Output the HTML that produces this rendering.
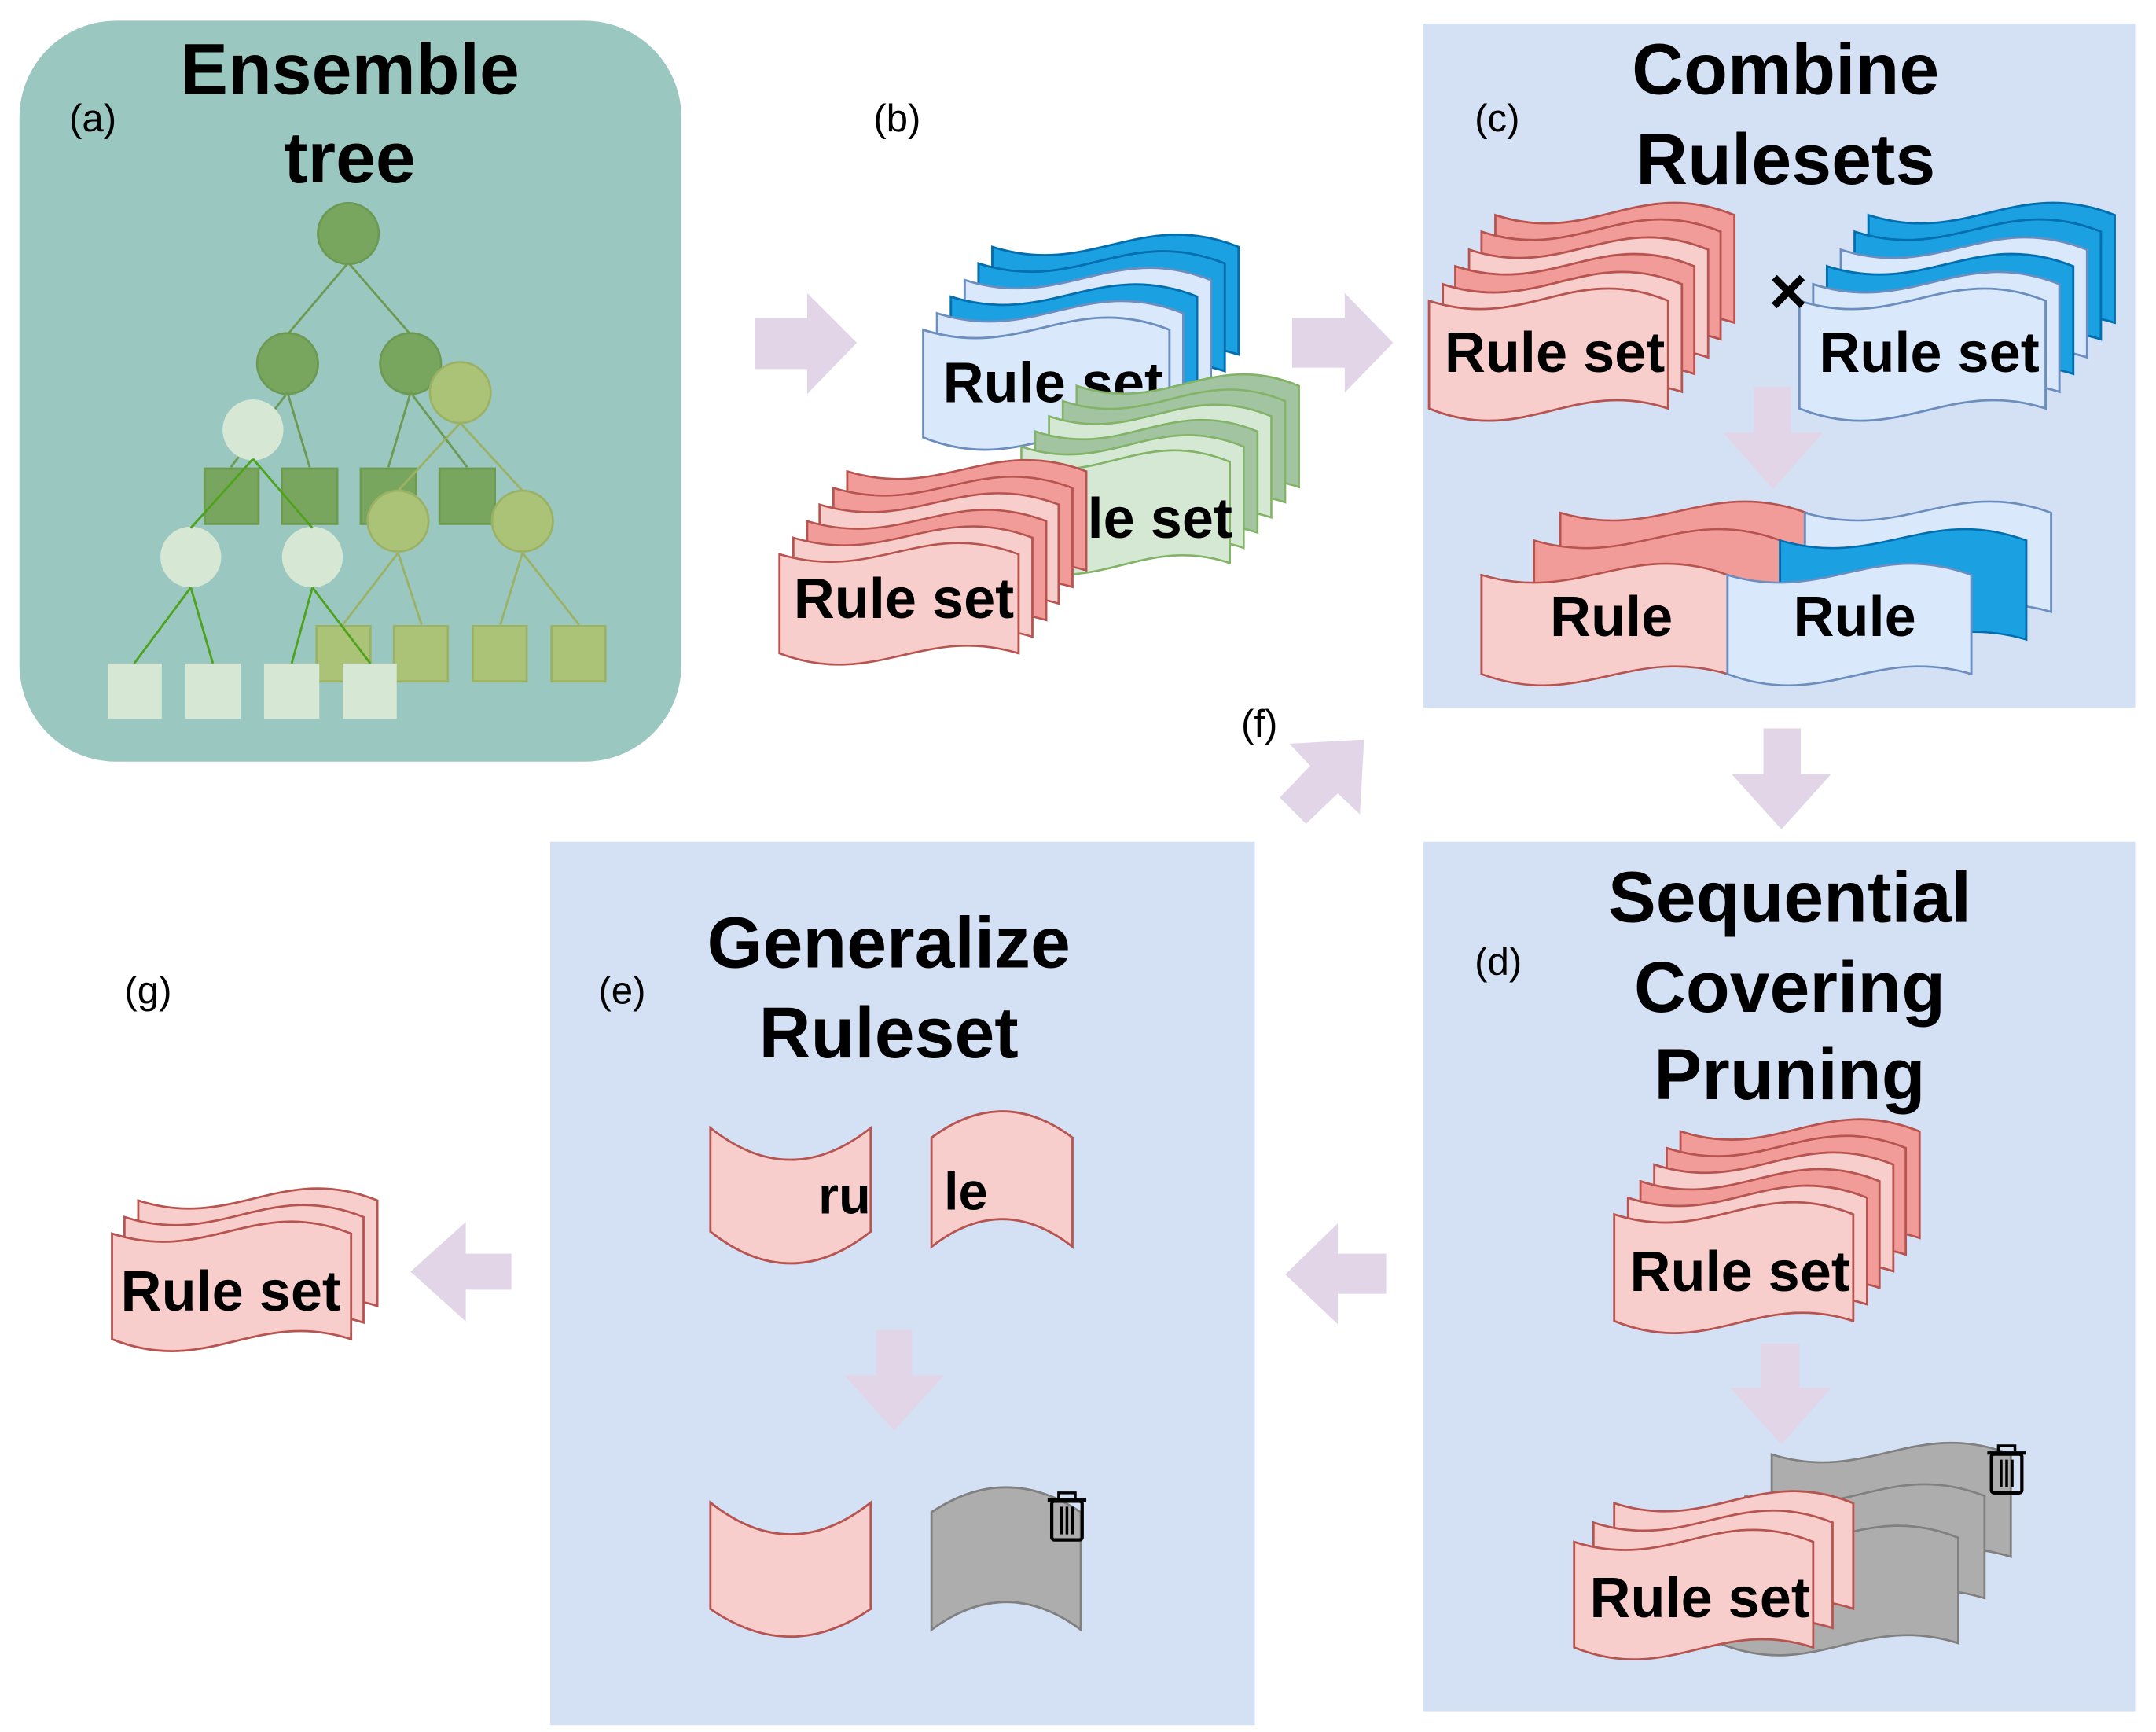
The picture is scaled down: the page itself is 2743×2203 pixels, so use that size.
<!DOCTYPE html>
<html><head><meta charset="utf-8"><style>
html,body{margin:0;padding:0;background:#fff}
svg{display:block}
text{font-family:"Liberation Sans",Arial,sans-serif}
.t{font-weight:bold;font-size:52px;text-anchor:middle}
.l{font-size:28px}
.rs{font-weight:bold;font-size:41px;text-anchor:middle}
.rl{fill:#f8cecc;stroke:#b85450}
.rd{fill:#f19c99;stroke:#b85450}
.bl{fill:#dae8fc;stroke:#6c8ebf}
.bd{fill:#1ba1e2;stroke:#006eaf}
.gl{fill:#d5e8d4;stroke:#82b366}
.gd{fill:#a3c4a0;stroke:#82b366}
.gy{fill:#adadad;stroke:#808080}
.ar{fill:#e1d5e7}
</style></head><body>
<svg width="2743" height="2203" viewBox="0 0 1560 1253" xmlns="http://www.w3.org/2000/svg">
<defs>
<path id="W" stroke-width="1.6" d="M0,7.6 C69.2,30.4 103.8,-20.9 173,7.6 L173,85.5 C103.8,62.7 69.2,114 0,85.5 Z"/>
<g id="T"><rect x="-11" y="6" width="22" height="28" rx="2" fill="none" stroke="#000" stroke-width="2.4"/><rect x="-14" y="4" width="28" height="2.4" fill="#000"/><path d="M-6,4 v-4 h12 v4" fill="none" stroke="#000" stroke-width="2"/><rect x="-5" y="10" width="2" height="20" fill="#000"/><rect x="-1" y="10" width="2" height="20" fill="#000"/><rect x="3" y="10" width="2" height="20" fill="#000"/></g>
</defs>

<rect x="14" y="15" width="479" height="536" rx="70" fill="#9bc7c1"/>
<rect x="1030" y="17" width="515" height="495" fill="#d4e1f5"/>
<rect x="1030" y="609" width="515" height="629" fill="#d4e1f5"/>
<rect x="398" y="609" width="510" height="639" fill="#d4e1f5"/>

<text class="t" x="253" y="68">Ensemble</text>
<text class="t" x="253" y="132">tree</text>
<text class="t" x="1292" y="68">Combine</text>
<text class="t" x="1292" y="133">Rulesets</text>
<text class="t" x="1295" y="667">Sequential</text>
<text class="t" x="1295" y="732">Covering</text>
<text class="t" x="1295" y="795">Pruning</text>
<text class="t" x="643" y="700">Generalize</text>
<text class="t" x="643" y="765">Ruleset</text>
<text class="l" x="50" y="95">(a)</text>
<text class="l" x="632" y="95">(b)</text>
<text class="l" x="1067" y="95">(c)</text>
<text class="l" x="898" y="533">(f)</text>
<text class="l" x="1067" y="705">(d)</text>
<text class="l" x="90" y="726">(g)</text>
<text class="l" x="433" y="726">(e)</text>

<g stroke="#6d9a52" stroke-width="1.6">
<line x1="252" y1="190" x2="208" y2="242"/><line x1="252" y1="190" x2="297" y2="242"/>
<line x1="208" y1="284" x2="167" y2="338"/><line x1="208" y1="284" x2="224" y2="338"/>
<line x1="297" y1="284" x2="281" y2="338"/><line x1="297" y1="284" x2="338" y2="338"/>
</g>
<g fill="#79a65f" stroke="#6d9a52" stroke-width="1.6">
<circle cx="252" cy="169" r="22"/><circle cx="208" cy="263" r="22"/><circle cx="297" cy="263" r="22"/>
<rect x="148" y="339" width="39" height="40"/><rect x="204" y="339" width="40" height="40"/><rect x="261" y="339" width="40" height="40"/><rect x="318" y="339" width="40" height="40"/>
</g>
<g stroke="#9bb265" stroke-width="1.6">
<line x1="333" y1="306" x2="288" y2="355"/><line x1="333" y1="306" x2="378" y2="355"/>
<line x1="288" y1="400" x2="248" y2="452"/><line x1="288" y1="400" x2="305" y2="452"/>
<line x1="378" y1="400" x2="362" y2="452"/><line x1="378" y1="400" x2="419" y2="452"/>
</g>
<g fill="#abc377" stroke="#9bb265" stroke-width="1.6">
<circle cx="333" cy="284" r="22"/><circle cx="288" cy="377" r="22"/><circle cx="378" cy="377" r="22"/>
<rect x="229" y="453" width="39" height="40"/><rect x="285" y="453" width="39" height="40"/><rect x="342" y="453" width="39" height="40"/><rect x="399" y="453" width="39" height="40"/>
</g>
<g fill="#d6e7d4">
<circle cx="183" cy="311" r="22"/><circle cx="138" cy="403" r="22"/><circle cx="226" cy="403" r="22"/>
</g>
<g stroke="#4da31b" stroke-width="1.6">
<line x1="183" y1="332" x2="138" y2="382"/><line x1="183" y1="332" x2="226" y2="382"/>
<line x1="138" y1="425" x2="97" y2="480"/><line x1="138" y1="425" x2="154" y2="480"/>
<line x1="226" y1="425" x2="211" y2="480"/><line x1="226" y1="425" x2="268" y2="480"/>
</g>
<g fill="#d6e7d4">
<rect x="78" y="480" width="39" height="40"/><rect x="134" y="480" width="40" height="40"/><rect x="191" y="480" width="40" height="40"/><rect x="248" y="480" width="39" height="40"/>
</g>

<polygon class="ar" points="546,230 584,230 584,212 620,248 584,285 584,267 546,267"/>
<polygon class="ar" points="935,230 973,230 973,212 1008,248 973,284 973,266 935,266"/>
<polygon class="ar" points="1269,280 1296,280 1296,313 1319,313 1283,354 1247,313 1269,313"/>
<polygon class="ar" points="1276,527 1303,527 1303,560 1325,560 1289,600 1253,560 1276,560"/>
<polygon class="ar" points="1274,972 1302,972 1302,1004 1325,1004 1289,1045 1252,1004 1274,1004"/>
<polygon class="ar" points="634,962 660,962 660,995 683,995 647,1035 611,995 634,995"/>
<polygon class="ar" points="1003,907 968,907 968,885 930,922 968,958 968,936 1003,936"/>
<polygon class="ar" points="370,907 337,907 337,884 297,920 337,956 337,933 370,933"/>
<polygon class="ar" points="987,535 933,538 948,554 926,577 945,596 968,574 984,589"/>

<use href="#W" class="bd" transform="translate(718,171) scale(1.03,1)"/>
<use href="#W" class="bd" transform="translate(708,183) scale(1.03,1)"/>
<use href="#W" class="bl" transform="translate(698,195) scale(1.03,1)"/>
<use href="#W" class="bd" transform="translate(688,207) scale(1.03,1)"/>
<use href="#W" class="bl" transform="translate(678,219) scale(1.03,1)"/>
<use href="#W" class="bl" transform="translate(668,231) scale(1.03,1)"/>
<text class="rs" x="762" y="291">Rule set</text>
<use href="#W" class="gd" transform="translate(779,272) scale(.93,.94)"/>
<use href="#W" class="gd" transform="translate(769,283) scale(.93,.94)"/>
<use href="#W" class="gl" transform="translate(759,294) scale(.93,.94)"/>
<use href="#W" class="gd" transform="translate(749,305) scale(.93,.94)"/>
<use href="#W" class="gl" transform="translate(739,316) scale(.93,.94)"/>
<use href="#W" class="gl" transform="translate(729,327) scale(.93,.94)"/>
<text class="rs" x="812" y="389">Rule set</text>
<use href="#W" class="rd" transform="translate(613,334) scale(1,.92)"/>
<use href="#W" class="rd" transform="translate(603,346) scale(1,.92)"/>
<use href="#W" class="rl" transform="translate(593,358) scale(1,.92)"/>
<use href="#W" class="rd" transform="translate(584,370) scale(1,.92)"/>
<use href="#W" class="rl" transform="translate(574,382) scale(1,.92)"/>
<use href="#W" class="rl" transform="translate(564,394) scale(1,.92)"/>
<text class="rs" x="654" y="447">Rule set</text>

<use href="#W" class="rd" transform="translate(1082,148)"/>
<use href="#W" class="rd" transform="translate(1072,160)"/>
<use href="#W" class="rl" transform="translate(1063,173)"/>
<use href="#W" class="rd" transform="translate(1053,185)"/>
<use href="#W" class="rl" transform="translate(1044,198)"/>
<use href="#W" class="rl" transform="translate(1034,210)"/>
<text class="rs" x="1125" y="269">Rule set</text>
<use href="#W" class="bd" transform="translate(1352,148) scale(1.03,1)"/>
<use href="#W" class="bd" transform="translate(1342,160) scale(1.03,1)"/>
<use href="#W" class="bl" transform="translate(1332,173) scale(1.03,1)"/>
<use href="#W" class="bd" transform="translate(1322,185) scale(1.03,1)"/>
<use href="#W" class="bl" transform="translate(1312,198) scale(1.03,1)"/>
<use href="#W" class="bl" transform="translate(1302,210) scale(1.03,1)"/>
<text class="rs" x="1396" y="269">Rule set</text>
<text x="1294" y="227" font-size="48" font-weight="bold" text-anchor="middle">×</text>
<use href="#W" class="rd" transform="translate(1129,364) scale(1.03,.92)"/>
<use href="#W" class="bl" transform="translate(1306,364) scale(1.03,.92)"/>
<use href="#W" class="rd" transform="translate(1110,384) scale(1.03,.92)"/>
<use href="#W" class="bd" transform="translate(1288,384) scale(1.03,.92)"/>
<use href="#W" class="rl" transform="translate(1072,409) scale(1.03,.92)"/>
<use href="#W" class="bl" transform="translate(1250,409) scale(1.02,.92)"/>
<text class="rs" x="1166" y="460">Rule</text>
<text class="rs" x="1342" y="460">Rule</text>

<use href="#W" class="rd" transform="translate(1216,811) scale(1,.99)"/>
<use href="#W" class="rd" transform="translate(1206,823) scale(1,.99)"/>
<use href="#W" class="rl" transform="translate(1197,835) scale(1,.99)"/>
<use href="#W" class="rd" transform="translate(1187,847) scale(1,.99)"/>
<use href="#W" class="rl" transform="translate(1178,859) scale(1,.99)"/>
<use href="#W" class="rl" transform="translate(1168,871) scale(1,.99)"/>
<text class="rs" x="1259" y="934">Rule set</text>
<use href="#W" class="gy" transform="translate(1282,1045) scale(1,.95)"/>
<use href="#W" class="gy" transform="translate(1263,1075) scale(1,.95)"/>
<use href="#W" class="gy" transform="translate(1244,1105) scale(1,.98)"/>
<use href="#T" transform="translate(1452,1046)"/>
<use href="#W" class="rl" transform="translate(1168,1080) scale(1,.98)"/>
<use href="#W" class="rl" transform="translate(1153,1094) scale(1,.98)"/>
<use href="#W" class="rl" transform="translate(1139,1108) scale(1,.98)"/>
<text class="rs" x="1230" y="1170">Rule set</text>

<path class="rl" stroke-width="1.6" d="M514,816 Q572,862 630,816 L630,891 Q572,937 514,891 Z"/>
<path class="rl" stroke-width="1.6" d="M674,823 Q725,785 776,823 L776,902 Q725,862 674,902 Z"/>
<text x="630" y="878" font-size="38" font-weight="bold" text-anchor="end">ru</text>
<text x="683" y="875" font-size="38" font-weight="bold">le</text>
<path class="rl" stroke-width="1.6" d="M514,1087 Q572,1133 630,1087 L630,1164 Q572,1204 514,1164 Z"/>
<path class="gy" stroke-width="1.6" d="M674,1094 Q728,1058 782,1094 L782,1179 Q728,1139 674,1179 Z"/>
<use href="#T" transform="translate(772,1080)"/>

<use href="#W" class="rl" transform="translate(100,861) scale(1,.98)"/>
<use href="#W" class="rl" transform="translate(90,873) scale(1,.98)"/>
<use href="#W" class="rl" transform="translate(81,885) scale(1,.98)"/>
<text class="rs" x="167" y="948">Rule set</text>
</svg>
</body></html>
